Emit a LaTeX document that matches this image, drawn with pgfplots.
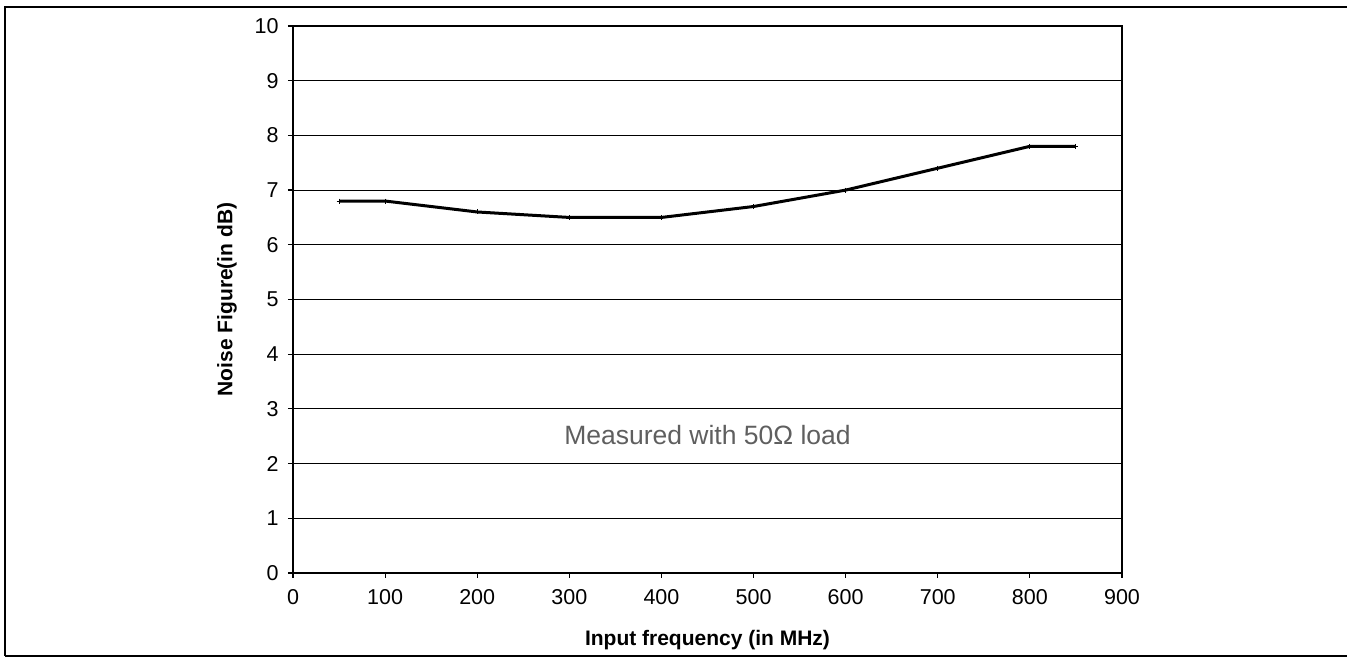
\documentclass[border=0pt]{standalone}
\usepackage{fontspec}
\setmainfont{Liberation Sans}
\usepackage{pgfplots}
\pgfplotsset{compat=1.18}
\definecolor{annot}{RGB}{95,95,95}
\begin{document}
\begin{tikzpicture}[x=1pt,y=1pt]
\useasboundingbox (-293,-85) rectangle (1054,573);
\draw[line width=2.2pt] (-288,-83) -- (-288,566) -- (1060,566);
\draw[line width=2.2pt] (-288,-83) -- (1060,-83);
\begin{axis}[
  at={(0,0)}, anchor=south west,
  scale only axis, width=829pt, height=547pt,
  xmin=0, xmax=900, ymin=0, ymax=10,
  xtick={0,100,...,900}, ytick={0,1,...,10},
  axis line style={line width=1.3pt, black},
  tick style={line width=1.2pt, black},
  tick align=outside, major tick length=5pt,
  xtick pos=bottom, ytick pos=left,
  ymajorgrids, grid style={line width=1.1pt, black},
  /pgf/number format/assume math mode=true,
  tick label style={font=\fontsize{21.5}{25}\selectfont},
  xticklabel style={yshift=-8pt},
  yticklabel style={xshift=-6pt},
  xlabel={\textbf{Input frequency (in MHz)}},
  ylabel={\textbf{Noise Figure(in dB)}},
  label style={font=\fontsize{21}{25}\selectfont},
  xlabel style={at={(axis description cs:0.5,0)}, anchor=center, yshift=-67pt},
  ylabel style={at={(axis description cs:0,0.5)}, anchor=center, rotate=0, yshift=66pt},
  clip=false,
]
\addplot[black, line width=3pt, mark=+, mark size=2.5pt, mark options={line width=1pt}] coordinates {
(50,6.8) (100,6.8) (200,6.6) (300,6.5) (400,6.5) (500,6.7) (600,7.0) (700,7.4) (800,7.8) (850,7.8)
};
\node[anchor=base, text=annot, font=\fontsize{26.5}{30}\selectfont] at (axis cs:450,2.34) {Measured with 50Ω load};
\end{axis}
\end{tikzpicture}
\end{document}
